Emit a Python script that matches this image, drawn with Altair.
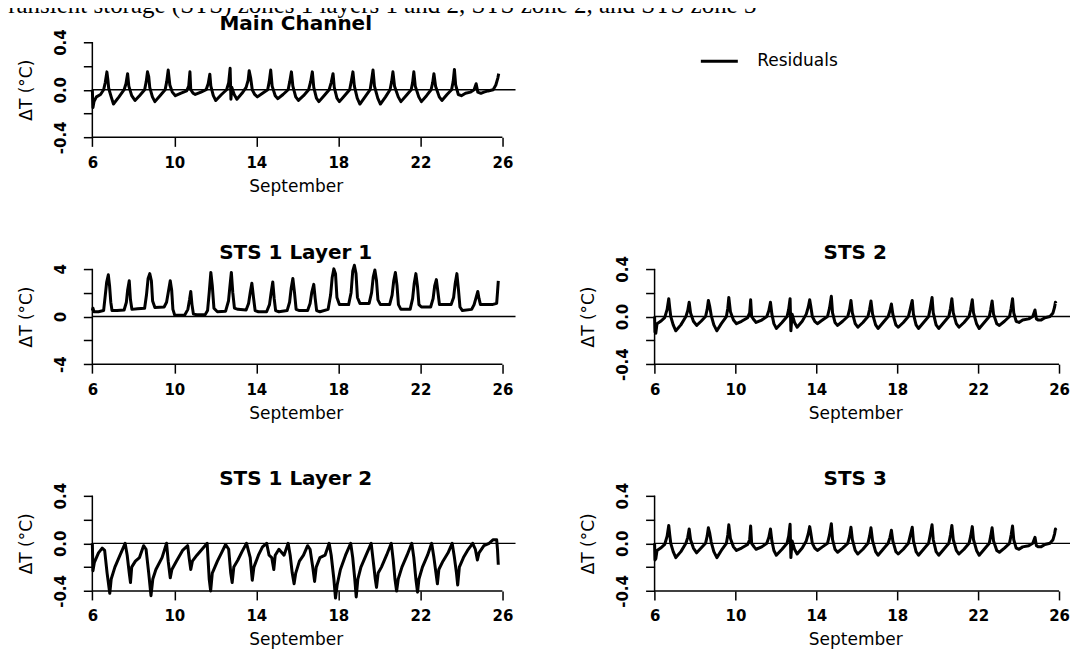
import altair as alt
import pandas as pd

# ---------------- data ----------------
X_TICKS = [6, 10, 14, 18, 22, 26]
X_REGION = [5.2, 26.64]          # plotting region (R style, 4 % beyond the data)
Y_SMALL = [-0.4, -0.2, 0.0, 0.2, 0.4]
Y_SMALL_LABELS = ["-0.4", "", "0.0", "", "0.4"]
Y_BIG = [-4, -2, 0, 2, 4]
Y_BIG_LABELS = ["-4", "", "0", "", "4"]

CAPTION = "ransient storage (STS) zones 1 layers 1 and 2, STS zone 2, and STS zone 3"
SERIES = "Residuals"

# (day of September, residual deg C)
main_channel = [
    (6.00, 0.00), (6.03, -0.15), (6.08, -0.10), (6.20, -0.06), (6.40, -0.04), (6.55, 0.00), (6.63, 0.06), (6.71, 0.15), (6.76, 0.08), (6.80, 0.01), (6.92, -0.06),
    (7.03, -0.12), (7.30, -0.06), (7.55, 0.00), (7.64, 0.05), (7.72, 0.135), (7.78, 0.03), (7.92, -0.05),
    (8.08, -0.09), (8.30, -0.05), (8.55, 0.00), (8.63, 0.07), (8.69, 0.15), (8.75, 0.11), (8.80, 0.02), (8.93, -0.06),
    (9.05, -0.10), (9.30, -0.05), (9.55, 0.00), (9.63, 0.07), (9.70, 0.165), (9.78, 0.04), (9.90, -0.02),
    (10.05, -0.05), (10.30, -0.03), (10.60, -0.01), (10.70, 0.03), (10.76, 0.15), (10.80, 0.00), (10.92, -0.03),
    (11.02, -0.04), (11.30, -0.02), (11.55, 0.00), (11.65, 0.05), (11.73, 0.13), (11.78, 0.03), (11.90, -0.05),
    (12.02, -0.09), (12.30, -0.04), (12.55, 0.00), (12.65, 0.06), (12.72, 0.18), (12.76, -0.08), (12.80, 0.02), (12.92, -0.04),
    (13.05, -0.08), (13.30, -0.03), (13.50, 0.02), (13.60, 0.08), (13.65, 0.16), (13.72, 0.10), (13.80, 0.00), (13.92, -0.04),
    (14.05, -0.06), (14.30, -0.03), (14.55, 0.00), (14.63, 0.07), (14.70, 0.165), (14.77, 0.03), (14.92, -0.05),
    (15.05, -0.075), (15.30, -0.04), (15.55, 0.00), (15.63, 0.07), (15.71, 0.15), (15.78, 0.03), (15.92, -0.06),
    (16.05, -0.09), (16.30, -0.05), (16.55, 0.00), (16.65, 0.07), (16.73, 0.15), (16.80, 0.02), (16.93, -0.07),
    (17.05, -0.10), (17.30, -0.05), (17.55, 0.00), (17.65, 0.06), (17.74, 0.135), (17.80, 0.02), (17.93, -0.07),
    (18.05, -0.10), (18.30, -0.05), (18.55, 0.00), (18.63, 0.07), (18.71, 0.15), (18.78, 0.03), (18.92, -0.07),
    (19.05, -0.12), (19.30, -0.06), (19.55, 0.00), (19.62, 0.08), (19.69, 0.165), (19.76, 0.03), (19.92, -0.07),
    (20.05, -0.12), (20.30, -0.06), (20.52, 0.00), (20.60, 0.07), (20.66, 0.15), (20.74, 0.03), (20.92, -0.06),
    (21.05, -0.10), (21.30, -0.05), (21.55, 0.00), (21.62, 0.06), (21.68, 0.15), (21.75, 0.03), (21.92, -0.06),
    (22.05, -0.10), (22.30, -0.05), (22.52, 0.00), (22.60, 0.06), (22.66, 0.135), (22.74, 0.03), (22.92, -0.06),
    (23.05, -0.09), (23.30, -0.04), (23.52, 0.00), (23.60, 0.07), (23.66, 0.17), (23.72, 0.04), (23.85, -0.04),
    (24.00, -0.05), (24.20, -0.03), (24.45, -0.02), (24.62, 0.00), (24.72, 0.05), (24.80, -0.02), (24.95, -0.03),
    (25.10, -0.02), (25.30, -0.01), (25.55, 0.00), (25.68, 0.04), (25.78, 0.10), (25.82, 0.135),
]

sts1_layer1 = [
    (6.00, 0.5), (6.03, 0.7), (6.08, 0.4), (6.30, 0.4), (6.55, 0.5), (6.62, 1.6), (6.70, 2.9), (6.78, 3.5), (6.84, 2.6), (6.90, 1.2), (6.96, 0.5),
    (7.20, 0.5), (7.55, 0.55), (7.66, 1.2), (7.72, 2.2), (7.80, 3.0), (7.86, 1.4), (7.93, 0.6),
    (8.20, 0.65), (8.55, 0.7), (8.64, 1.8), (8.72, 3.2), (8.80, 3.6), (8.88, 3.0), (8.94, 1.3),
    (9.05, 0.75), (9.50, 0.8), (9.62, 1.2), (9.70, 2.0), (9.80, 3.0), (9.87, 2.2), (9.93, 0.6),
    (10.02, 0.1), (10.50, 0.1), (10.66, 0.6), (10.74, 1.4), (10.80, 2.1), (10.86, 1.0), (10.93, 0.2),
    (11.10, 0.15), (11.50, 0.15), (11.62, 0.5), (11.70, 2.0), (11.78, 3.7), (11.85, 2.6), (11.93, 0.7),
    (12.10, 0.4), (12.50, 0.45), (12.64, 1.3), (12.72, 2.7), (12.78, 3.7), (12.85, 2.0), (12.93, 0.7),
    (13.10, 0.6), (13.50, 0.55), (13.62, 1.1), (13.70, 2.0), (13.78, 2.8), (13.86, 1.6), (13.94, 0.5),
    (14.10, 0.4), (14.50, 0.4), (14.64, 1.0), (14.72, 2.0), (14.80, 2.9), (14.87, 1.5), (14.94, 0.5),
    (15.10, 0.4), (15.50, 0.5), (15.62, 1.2), (15.70, 2.4), (15.78, 3.2), (15.86, 2.0), (15.94, 0.6),
    (16.10, 0.5), (16.50, 0.5), (16.62, 1.1), (16.70, 2.0), (16.80, 2.7), (16.87, 1.5), (16.94, 0.5),
    (17.10, 0.4), (17.50, 0.6), (17.62, 1.8), (17.70, 3.3), (17.78, 4.0), (17.86, 3.6), (17.93, 1.6),
    (18.05, 1.0), (18.50, 1.0), (18.62, 2.0), (18.70, 3.8), (18.78, 4.3), (18.86, 3.6), (18.93, 1.6),
    (19.05, 1.1), (19.50, 1.1), (19.62, 2.0), (19.70, 3.3), (19.78, 3.9), (19.86, 3.0), (19.93, 1.4),
    (20.05, 1.0), (20.50, 1.0), (20.62, 1.8), (20.70, 3.0), (20.78, 3.7), (20.86, 2.6), (20.93, 1.0),
    (21.05, 0.6), (21.50, 0.6), (21.62, 1.5), (21.70, 2.8), (21.78, 3.6), (21.86, 2.5), (21.93, 1.0),
    (22.05, 0.8), (22.50, 0.8), (22.62, 1.5), (22.70, 2.6), (22.78, 3.1), (22.86, 2.0), (22.93, 1.0),
    (23.05, 1.0), (23.50, 1.0), (23.62, 1.6), (23.70, 2.8), (23.78, 3.6), (23.86, 2.2), (23.93, 0.8),
    (24.05, 0.5), (24.50, 0.6), (24.62, 1.0), (24.72, 1.6), (24.80, 2.1), (24.86, 1.5), (24.93, 1.0),
    (25.10, 1.0), (25.50, 1.0), (25.72, 1.1), (25.76, 2.0), (25.80, 3.0),
]

sts1_layer2 = [
    (6.00, 0.00), (6.03, -0.23), (6.10, -0.16), (6.30, -0.08), (6.48, -0.04), (6.60, -0.06), (6.72, -0.25), (6.85, -0.42), (6.92, -0.30),
    (7.10, -0.20), (7.35, -0.10), (7.60, 0.00), (7.70, -0.10), (7.80, -0.25), (7.86, -0.33), (7.92, -0.20),
    (8.10, -0.15), (8.30, -0.12), (8.50, -0.02), (8.62, -0.05), (8.75, -0.25), (8.86, -0.44), (8.95, -0.30),
    (9.10, -0.22), (9.40, -0.12), (9.62, 0.00), (9.70, -0.15), (9.80, -0.29), (9.88, -0.22),
    (10.10, -0.15), (10.40, -0.06), (10.65, -0.02), (10.72, -0.12), (10.80, -0.22), (10.88, -0.15),
    (11.10, -0.10), (11.35, -0.05), (11.60, 0.00), (11.70, -0.30), (11.77, -0.40), (11.85, -0.25),
    (12.10, -0.15), (12.30, -0.08), (12.50, -0.01), (12.65, -0.05), (12.75, -0.25), (12.82, -0.33), (12.90, -0.20),
    (13.10, -0.14), (13.30, -0.07), (13.52, 0.00), (13.70, -0.12), (13.80, -0.31), (13.88, -0.20),
    (14.10, -0.10), (14.30, -0.03), (14.50, 0.00), (14.62, -0.10), (14.75, -0.12), (14.85, -0.22), (14.92, -0.10),
    (15.10, -0.05), (15.35, -0.10), (15.55, 0.00), (15.65, -0.10), (15.75, -0.25), (15.84, -0.34), (15.92, -0.25),
    (16.10, -0.15), (16.30, -0.10), (16.50, -0.02), (16.62, -0.05), (16.75, -0.20), (16.84, -0.32), (16.92, -0.20),
    (17.10, -0.12), (17.35, -0.10), (17.55, 0.00), (17.65, -0.10), (17.78, -0.30), (17.86, -0.46), (17.94, -0.35),
    (18.10, -0.22), (18.35, -0.10), (18.60, 0.00), (18.70, -0.12), (18.80, -0.30), (18.87, -0.45), (18.95, -0.30),
    (19.10, -0.20), (19.35, -0.10), (19.60, 0.00), (19.70, -0.15), (19.80, -0.30), (19.86, -0.37), (19.94, -0.25),
    (20.10, -0.20), (20.35, -0.10), (20.58, 0.00), (20.68, -0.15), (20.76, -0.30), (20.84, -0.40), (20.92, -0.30),
    (21.10, -0.20), (21.35, -0.10), (21.58, 0.00), (21.68, -0.12), (21.78, -0.30), (21.86, -0.41), (21.93, -0.30),
    (22.10, -0.20), (22.35, -0.10), (22.55, 0.00), (22.66, -0.12), (22.76, -0.25), (22.83, -0.34), (22.90, -0.22),
    (23.10, -0.15), (23.35, -0.08), (23.55, 0.00), (23.66, -0.12), (23.76, -0.25), (23.82, -0.35), (23.90, -0.20),
    (24.10, -0.12), (24.30, -0.06), (24.55, 0.00), (24.68, -0.05), (24.78, -0.14), (24.86, -0.08),
    (25.10, -0.02), (25.35, 0.00), (25.55, 0.03), (25.72, 0.03), (25.76, -0.05), (25.80, -0.18),
]

sts2 = [
    (6.00, 0.00), (6.02, -0.13), (6.06, -0.14), (6.12, -0.06), (6.30, -0.04), (6.50, -0.01), (6.62, 0.06), (6.70, 0.15), (6.75, 0.07), (6.80, 0.00), (6.92, -0.07),
    (7.05, -0.12), (7.30, -0.07), (7.55, 0.00), (7.64, 0.05), (7.71, 0.12), (7.78, 0.03), (7.92, -0.04),
    (8.08, -0.075), (8.30, -0.04), (8.52, 0.00), (8.60, 0.06), (8.66, 0.135), (8.72, 0.09), (8.80, 0.01), (8.93, -0.07),
    (9.08, -0.12), (9.30, -0.06), (9.55, 0.00), (9.62, 0.07), (9.67, 0.16), (9.75, 0.04), (9.90, -0.03),
    (10.05, -0.06), (10.30, -0.04), (10.60, -0.01), (10.70, 0.03), (10.75, 0.14), (10.80, 0.00), (10.92, -0.03),
    (11.02, -0.05), (11.30, -0.03), (11.55, 0.00), (11.65, 0.05), (11.73, 0.12), (11.80, 0.02), (11.90, -0.06),
    (12.02, -0.10), (12.30, -0.05), (12.55, 0.00), (12.63, 0.06), (12.70, 0.15), (12.74, -0.12), (12.80, 0.02), (12.92, -0.05),
    (13.05, -0.09), (13.30, -0.04), (13.50, 0.02), (13.60, 0.08), (13.67, 0.14), (13.72, 0.09), (13.80, 0.00), (13.92, -0.04),
    (14.05, -0.06), (14.30, -0.03), (14.55, 0.00), (14.65, 0.07), (14.74, 0.17), (14.80, 0.03), (14.92, -0.05),
    (15.05, -0.075), (15.30, -0.04), (15.55, 0.00), (15.64, 0.06), (15.71, 0.135), (15.78, 0.03), (15.92, -0.06),
    (16.05, -0.09), (16.30, -0.05), (16.55, 0.00), (16.63, 0.06), (16.70, 0.13), (16.78, 0.02), (16.93, -0.07),
    (17.05, -0.10), (17.30, -0.05), (17.55, 0.00), (17.64, 0.05), (17.71, 0.105), (17.78, 0.02), (17.93, -0.07),
    (18.05, -0.09), (18.30, -0.05), (18.55, 0.00), (18.65, 0.07), (18.74, 0.135), (18.80, 0.02), (18.93, -0.07),
    (19.05, -0.10), (19.30, -0.05), (19.55, 0.00), (19.64, 0.08), (19.72, 0.16), (19.78, 0.03), (19.92, -0.07),
    (20.05, -0.10), (20.30, -0.05), (20.55, 0.00), (20.63, 0.07), (20.70, 0.15), (20.77, 0.03), (20.92, -0.06),
    (21.05, -0.09), (21.30, -0.05), (21.55, 0.00), (21.63, 0.06), (21.71, 0.14), (21.77, 0.03), (21.92, -0.06),
    (22.05, -0.10), (22.30, -0.05), (22.55, 0.00), (22.62, 0.06), (22.69, 0.13), (22.76, 0.02), (22.92, -0.06),
    (23.05, -0.075), (23.30, -0.04), (23.55, 0.00), (23.63, 0.07), (23.70, 0.15), (23.76, 0.03), (23.88, -0.04),
    (24.02, -0.05), (24.20, -0.03), (24.50, -0.02), (24.70, 0.00), (24.81, 0.055), (24.88, -0.02), (24.98, -0.03),
    (25.10, -0.03), (25.30, -0.01), (25.55, 0.00), (25.70, 0.03), (25.78, 0.08), (25.82, 0.12), (25.85, 0.11),
]

sts3 = [
    (6.00, 0.00), (6.02, -0.14), (6.06, -0.13), (6.12, -0.06), (6.30, -0.04), (6.50, -0.01), (6.62, 0.06), (6.70, 0.15), (6.75, 0.07), (6.80, 0.00), (6.92, -0.07),
    (7.05, -0.12), (7.30, -0.07), (7.55, 0.00), (7.64, 0.05), (7.71, 0.12), (7.78, 0.03), (7.92, -0.04),
    (8.08, -0.08), (8.30, -0.04), (8.52, 0.00), (8.60, 0.06), (8.66, 0.13), (8.72, 0.09), (8.80, 0.01), (8.93, -0.07),
    (9.08, -0.12), (9.30, -0.06), (9.55, 0.00), (9.62, 0.07), (9.67, 0.155), (9.75, 0.04), (9.90, -0.03),
    (10.05, -0.06), (10.30, -0.04), (10.60, -0.01), (10.70, 0.03), (10.75, 0.145), (10.80, 0.00), (10.92, -0.03),
    (11.02, -0.05), (11.30, -0.03), (11.55, 0.00), (11.65, 0.05), (11.73, 0.12), (11.80, 0.02), (11.90, -0.06),
    (12.02, -0.10), (12.30, -0.05), (12.55, 0.00), (12.63, 0.06), (12.70, 0.16), (12.74, -0.12), (12.80, 0.02), (12.92, -0.05),
    (13.05, -0.09), (13.30, -0.04), (13.50, 0.02), (13.60, 0.08), (13.67, 0.14), (13.72, 0.09), (13.80, 0.00), (13.92, -0.04),
    (14.05, -0.06), (14.30, -0.03), (14.55, 0.00), (14.65, 0.07), (14.74, 0.165), (14.80, 0.03), (14.92, -0.05),
    (15.05, -0.075), (15.30, -0.04), (15.55, 0.00), (15.64, 0.06), (15.71, 0.135), (15.78, 0.03), (15.92, -0.06),
    (16.05, -0.09), (16.30, -0.05), (16.55, 0.00), (16.63, 0.06), (16.70, 0.13), (16.78, 0.02), (16.93, -0.07),
    (17.05, -0.10), (17.30, -0.05), (17.55, 0.00), (17.64, 0.05), (17.71, 0.11), (17.78, 0.02), (17.93, -0.07),
    (18.05, -0.09), (18.30, -0.05), (18.55, 0.00), (18.65, 0.07), (18.74, 0.135), (18.80, 0.02), (18.93, -0.07),
    (19.05, -0.10), (19.30, -0.05), (19.55, 0.00), (19.64, 0.08), (19.72, 0.155), (19.78, 0.03), (19.92, -0.07),
    (20.05, -0.10), (20.30, -0.05), (20.55, 0.00), (20.63, 0.07), (20.70, 0.15), (20.77, 0.03), (20.92, -0.06),
    (21.05, -0.09), (21.30, -0.05), (21.55, 0.00), (21.63, 0.06), (21.71, 0.14), (21.77, 0.03), (21.92, -0.06),
    (22.05, -0.10), (22.30, -0.05), (22.55, 0.00), (22.62, 0.06), (22.69, 0.13), (22.76, 0.02), (22.92, -0.06),
    (23.05, -0.075), (23.30, -0.04), (23.55, 0.00), (23.63, 0.07), (23.70, 0.145), (23.76, 0.03), (23.88, -0.04),
    (24.02, -0.05), (24.20, -0.03), (24.50, -0.02), (24.70, 0.00), (24.81, 0.05), (24.88, -0.02), (24.98, -0.03),
    (25.10, -0.03), (25.30, -0.01), (25.55, 0.00), (25.70, 0.03), (25.78, 0.08), (25.82, 0.12), (25.85, 0.11),
]

# ---------------- styling / layout ----------------
FONT = "DejaVu Sans"
LEFT_W, RIGHT_W, PANEL_H = 440, 434, 103
EXT = 0.04                      # R's 4 % axis extension
COL_SPACING = 123
ROW_SPACING = 124
RIGHT_X0 = 638.8                # page x of right column plot region (to place the caption)


def label_expr(vals, labels):
    parts = [f"abs(datum.value - ({v})) < 1e-6 ? '{l}'" for v, l in zip(vals, labels)]
    return " : ".join(parts) + " : ''"


def panel(title, pairs, yvals, ylabels, width, title_dy):
    lo, hi = yvals[0], yvals[-1]
    pad = (hi - lo) * EXT
    ydom = [lo - pad, hi + pad]
    df = pd.DataFrame(pairs, columns=["day", "dT"])
    df["series"] = SERIES
    xs = alt.Scale(domain=X_REGION, nice=False, zero=False)
    ys = alt.Scale(domain=ydom, nice=False, zero=False)
    # axes are drawn at day 6 / lowest tick (like R's axis(pos=...)) -> negative offsets
    x_off = -(X_TICKS[0] - X_REGION[0]) / (X_REGION[1] - X_REGION[0]) * width
    y_off = -pad / (ydom[1] - ydom[0]) * PANEL_H
    xaxis = alt.Axis(values=X_TICKS, format="d", domain=False, grid=False, offset=y_off,
                     title="September", tickSize=9, labelPadding=9, titlePadding=8)
    yaxis = alt.Axis(values=yvals, labelExpr=label_expr(yvals, ylabels), grid=False, domain=False,
                     offset=x_off, title="ΔT (°C)", tickSize=9, labelPadding=15, labelAngle=270,
                     labelAlign="center", labelBaseline="bottom", titlePadding=18)
    X = alt.X("day:Q", scale=xs, axis=xaxis)
    Y = alt.Y("dT:Q", scale=ys, axis=yaxis)
    color = alt.Color("series:N", scale=alt.Scale(domain=[SERIES], range=["black"]),
                      legend=alt.Legend(title=None, orient="none", legendX=624, legendY=3,
                                        symbolType="stroke", symbolSize=1369, symbolStrokeWidth=3,
                                        symbolStrokeColor="black", labelFont=FONT, labelFontSize=17,
                                        labelColor="black", labelOffset=18, padding=0))
    zero = alt.Chart(pd.DataFrame({"day": [X_TICKS[0]], "day2": [X_REGION[1]], "dT": [0.0]})).mark_rule(
        color="black", strokeWidth=1.3).encode(x=X, x2="day2:Q", y=Y)
    line = alt.Chart(df).mark_line(strokeWidth=3, strokeJoin="round").encode(x=X, y=Y, color=color)
    xline = alt.Chart(pd.DataFrame({"day": [X_TICKS[0]], "day2": [X_TICKS[-1]], "dT": [lo]})).mark_rule(
        color="black", strokeWidth=1.5).encode(x=X, x2="day2:Q", y=Y)
    yline = alt.Chart(pd.DataFrame({"day": [X_TICKS[0]], "dT": [lo], "dT2": [hi]})).mark_rule(
        color="black", strokeWidth=1.5).encode(x=X, y=Y, y2="dT2:Q")
    return alt.layer(zero, line, xline, yline).properties(
        width=width, height=PANEL_H,
        title=alt.TitleParams(title, font=FONT, fontSize=20, fontWeight="bold", color="black",
                              offset=4, dy=title_dy),
    )


main = panel("Main Channel", main_channel, Y_SMALL, Y_SMALL_LABELS, LEFT_W, 9)
# upper-right cell: empty area carrying the (cropped) caption line of the page
filler = alt.Chart(pd.DataFrame({"caption": [CAPTION]})).mark_text(
    align="left", baseline="alphabetic", font="Liberation Serif", fontSize=25, color="black"
).encode(x=alt.value(8 - RIGHT_X0), y=alt.value(-25), text="caption:N").properties(width=RIGHT_W, height=PANEL_H)
l1 = panel("STS 1 Layer 1", sts1_layer1, Y_BIG, Y_BIG_LABELS, LEFT_W, 3)
s2 = panel("STS 2", sts2, Y_SMALL, Y_SMALL_LABELS, RIGHT_W, 11)
l2 = panel("STS 1 Layer 2", sts1_layer2, Y_SMALL, Y_SMALL_LABELS, LEFT_W, 11)
s3 = panel("STS 3", sts3, Y_SMALL, Y_SMALL_LABELS, RIGHT_W, 11)

chart = alt.concat(main, filler, l1, s2, l2, s3, columns=2, bounds="flush",
                   spacing={"row": ROW_SPACING, "column": COL_SPACING}).resolve_scale(color="shared").properties(
    padding={"top": -15, "left": 0, "right": -3, "bottom": 3}, background="white"
).configure_view(stroke=None).configure_axis(
    labelFont=FONT, labelFontSize=15, labelFontWeight="bold", labelColor="black",
    titleFont=FONT, titleFontSize=17, titleFontWeight="normal", titleColor="black",
    tickColor="black", tickWidth=1.5, domainColor="black", domainWidth=1.5,
)

chart.save("out.html", embed_options={"renderer": "svg", "actions": False})
